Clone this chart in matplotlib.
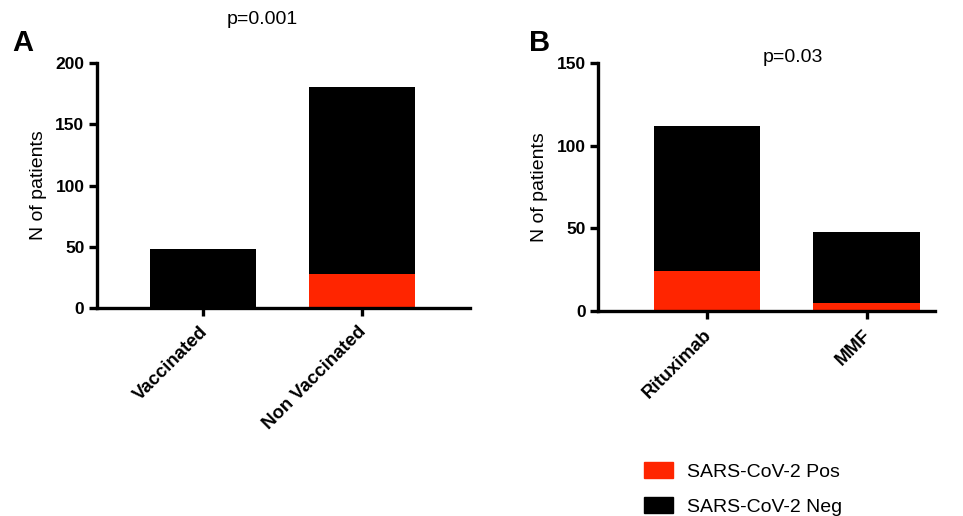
import matplotlib.pyplot as plt
from matplotlib.patches import Patch
from matplotlib.transforms import ScaledTranslation

plt.rcParams['font.family'] = ['Liberation Sans', 'DejaVu Sans']

# panel A: vaccination status
groups_a = ["Vaccinated", "Non Vaccinated"]
pos_a = [0, 28]
neg_a = [48, 152]

# panel B: treatment
groups_b = ["Rituximab", "MMF"]
pos_b = [24, 5]
neg_b = [88, 43]

RED = "#ff2500"
BLACK = "#000000"


def stacked(ax, groups, pos, neg, ymax, step, xlim):
    x = list(range(len(groups)))
    ax.bar(x, pos, width=0.667, color=RED)
    ax.bar(x, neg, width=0.667, bottom=pos, color=BLACK)
    ax.set_xlim(*xlim)
    ax.set_ylim(0, ymax)
    ax.set_yticks(range(0, ymax + 1, step))
    ax.set_xticks(x)

    for side in ["top", "right"]:
        ax.spines[side].set_visible(False)
    for side in ["left", "bottom"]:
        ax.spines[side].set_linewidth(2.4)
    ax.tick_params(width=2.4, length=6)
    ax.tick_params(axis="y", pad=3, labelsize=12.5)
    ax.tick_params(axis="x", pad=5, labelsize=13.4)

    ax.set_xticklabels(groups, rotation=45, ha="right", rotation_mode="anchor",
                       fontweight="bold")
    shift = ScaledTranslation(-4 / 100, 0, ax.figure.dpi_scale_trans)
    for lab in ax.get_xticklabels():
        lab.set_transform(lab.get_transform() + shift)
    for lab in ax.get_yticklabels():
        lab.set_fontweight("bold")
    ax.set_ylabel("N of patients", fontsize=14, labelpad=6)


fig = plt.figure(figsize=(9.63, 5.16), dpi=100)
ax_a = fig.add_axes([0.1007, 0.403, 0.387, 0.475])
ax_b = fig.add_axes([0.621, 0.397, 0.35, 0.481])

stacked(ax_a, groups_a, pos_a, neg_a, 200, 50, (-0.667, 1.68))
stacked(ax_b, groups_b, pos_b, neg_b, 150, 50, (-0.686, 1.43))

fig.text(262 / 963, 1 - 20 / 516, "p=0.001", ha="center", va="center", fontsize=14)
fig.text(793 / 963, 1 - 57 / 516, "p=0.03", ha="center", va="center", fontsize=14)
fig.text(23 / 963, 1 - 43 / 516, "A", ha="center", va="center", fontsize=21, fontweight="bold")
fig.text(540 / 963, 1 - 43 / 516, "B", ha="center", va="center", fontsize=21, fontweight="bold")

handles = [Patch(color=RED, label="SARS-CoV-2 Pos"),
           Patch(color=BLACK, label="SARS-CoV-2 Neg")]
fig.legend(handles=handles, loc="center left", bbox_to_anchor=(644 / 963, 1 - 489 / 516),
           frameon=False, fontsize=14, handlelength=1.5, handleheight=0.88,
           labelspacing=0.85, handletextpad=0.72, borderpad=0, borderaxespad=0)

fig.savefig("out.png", dpi=100)
